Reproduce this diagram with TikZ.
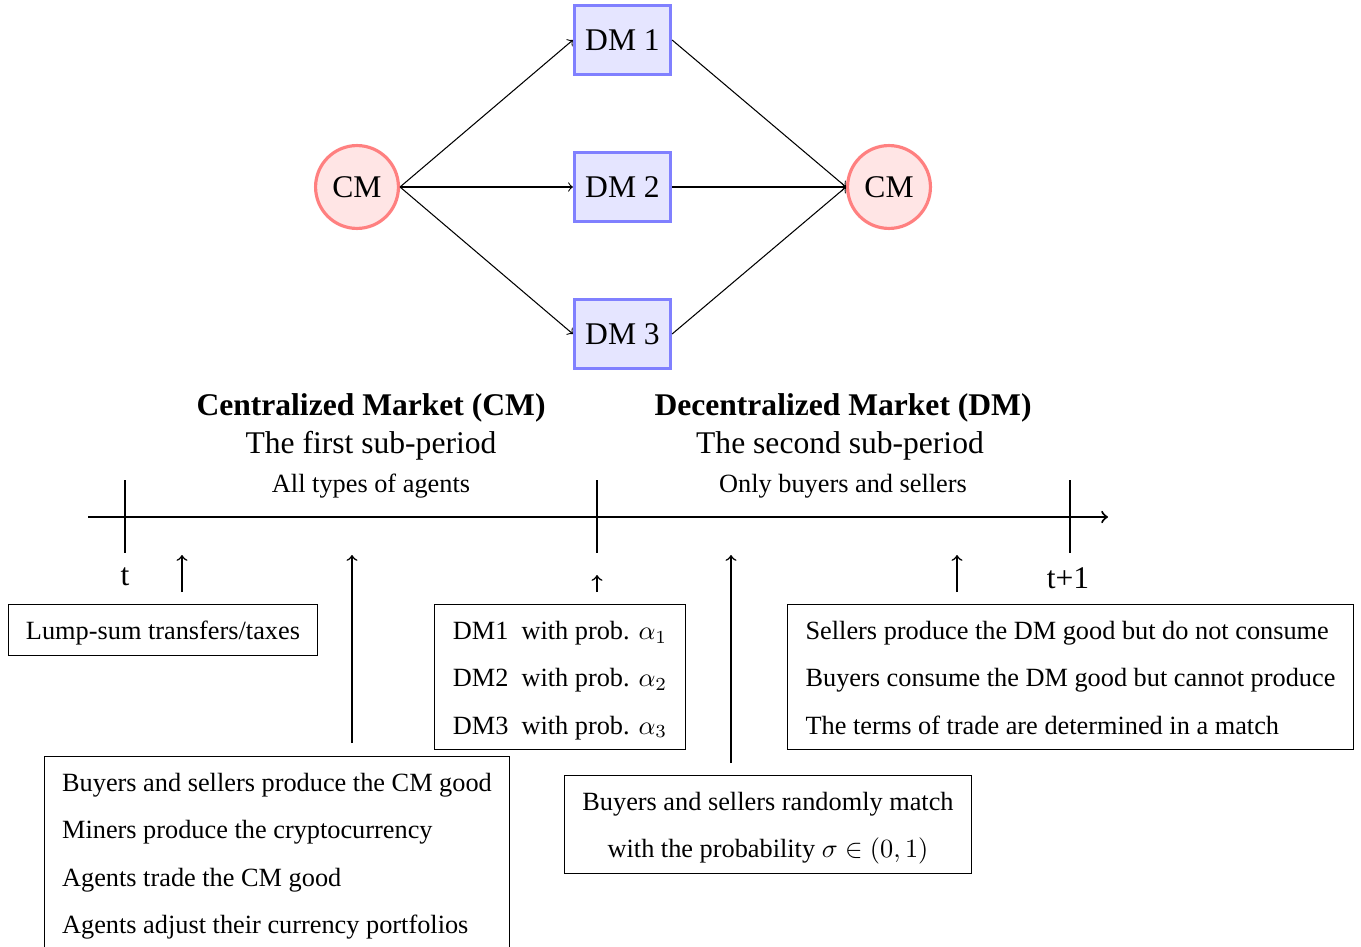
\documentclass[tikz,border=0pt]{standalone}
\usepackage{fontspec}
\setmainfont{Liberation Serif}
\usepackage{array}
\renewcommand{\arraystretch}{1.5}
\begin{document}
\begin{tikzpicture}[x=0.38pt,y=-0.38pt,
  cmnode/.style={circle,draw=red!50,fill=red!10,line width=1.2pt,minimum size=31.5pt,inner sep=0pt,font=\large},
  dmnode/.style={rectangle,draw=blue!50,fill=blue!10,line width=1.2pt,minimum width=36.5pt,minimum height=26pt,inner sep=0pt,font=\large},
  flow/.style={->},
  infobox/.style={draw,inner xsep=0.8pt,inner ysep=0.6pt,anchor=north,line width=0.4pt},
  uparrow/.style={->,semithick},
  tline/.style={thick},
  bighead/.style={font=\large\bfseries},
  subhead/.style={font=\large},
  small/.style={font=\normalsize}]
\useasboundingbox (0,0) rectangle (1361,946);

% top graph
\node[cmnode] (cmA) at (357,187) {CM};
\node[dmnode] (dm1) at (622.5,40) {DM 1};
\node[dmnode] (dm2) at (622.5,187) {DM 2};
\node[dmnode] (dm3) at (622.5,334) {DM 3};
\node[cmnode] (cmB) at (889,187) {CM};
\draw[flow] (cmA.east) -- (dm1.west);
\draw[flow] (cmA.east) -- (dm2.west);
\draw[flow] (cmA.east) -- (dm3.west);
\draw[flow] (dm1.east) -- (cmB.west);
\draw[flow] (dm2.east) -- (cmB.west);
\draw[flow] (dm3.east) -- (cmB.west);

% headings
\node[bighead] (h1) at (371,408) {Centralized Market (CM)};
\node[subhead] (s1) at (371,446) {The first sub-period};
\node[small] (n1) at (371,486) {All types of agents};
\node[bighead] (h2) at (843,408) {Decentralized Market (DM)};
\node[subhead] (s2) at (840,446) {The second sub-period};
\node[small] (n2) at (843,486) {Only buyers and sellers};

% timeline
\coordinate (tls) at (88,517);
\coordinate (tle) at (1108,517);
\draw[tline,->] (tls) -- (tle);
\coordinate (k1a) at (125,480); \coordinate (k1b) at (125,553);
\coordinate (k2a) at (597,480); \coordinate (k2b) at (597,553);
\coordinate (k3a) at (1070,480); \coordinate (k3b) at (1070,553);
\draw[tline] (k1a) -- (k1b);
\draw[tline] (k2a) -- (k2b);
\draw[tline] (k3a) -- (k3b);
\node[font=\large] (lt) at (125,577) {t};
\node[font=\large] (lt1) at (1068,578) {t+1};

% boxes
\node[infobox] (lump) at (163,604) {\begin{tabular}{l}Lump-sum transfers/taxes\end{tabular}};
\node[infobox] (dmp) at (560,604) {\begin{tabular}{l}DM1~~with prob. $\alpha_1$\\DM2~~with prob. $\alpha_2$\\DM3~~with prob. $\alpha_3$\end{tabular}};
\node[infobox] (sell) at (1070.5,604) {\begin{tabular}{l}Sellers produce the DM good but do not consume\\Buyers consume the DM good but cannot produce\\The terms of trade are determined in a match\end{tabular}};
\node[infobox] (cmact) at (277,756) {\begin{tabular}{l}Buyers and sellers produce the CM good\\Miners produce the cryptocurrency\\Agents trade the CM good\\Agents adjust their currency portfolios\end{tabular}};
\node[infobox] (match) at (768,775) {\begin{tabular}{c}Buyers and sellers randomly match\\with the probability $\sigma\in(0,1)$\end{tabular}};

% up arrows
\coordinate (u1s) at (182,592); \coordinate (u1e) at (182,555);
\coordinate (u2s) at (352,743); \coordinate (u2e) at (352,555);
\coordinate (u3s) at (597,592); \coordinate (u3e) at (597,575);
\coordinate (u4s) at (731,763); \coordinate (u4e) at (731,555);
\coordinate (u5s) at (957,592); \coordinate (u5e) at (957,555);
\draw[uparrow] (u1s) -- (u1e);
\draw[uparrow] (u2s) -- (u2e);
\draw[uparrow] (u3s) -- (u3e);
\draw[uparrow] (u4s) -- (u4e);
\draw[uparrow] (u5s) -- (u5e);
\end{tikzpicture}
\end{document}
